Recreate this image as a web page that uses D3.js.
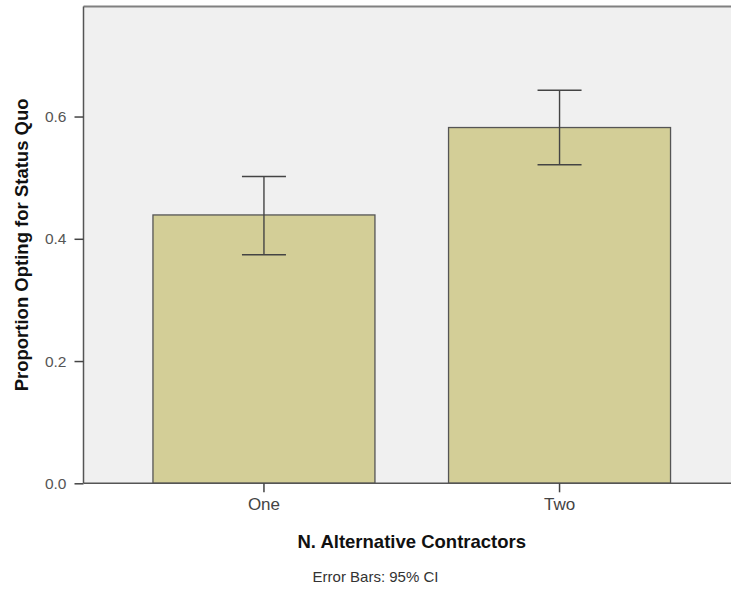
<!DOCTYPE html>
<html>
<head>
<meta charset="UTF-8">
<script src="https://d3js.org/d3.v7.min.js"></script>
<style>
  body { margin: 0; background: #fff; }
  svg text { font-family: "Liberation Sans", Arial, sans-serif; }
</style>
</head>
<body>
<svg id="chart" width="731" height="589"></svg>
<script>
// data
const categories = ["One", "Two"];
const proportions = [0.439, 0.582];
const ciLow = [0.374, 0.521];
const ciHigh = [0.502, 0.643];
const yTicks = [0.0, 0.2, 0.4, 0.6];

const svg = d3.select("#chart");
const plotLeft = 83.5, plotTop = 6.5, plotRight = 740, plotBottom = 483.3;

const x = d3.scaleBand()
    .domain(categories)
    .range([plotLeft, plotRight])
    .paddingInner(0.249)
    .paddingOuter(0.235);

const y = d3.scaleLinear()
    .domain([0, 0.78])
    .range([plotBottom, plotTop]);

// plot background
svg.append("rect")
    .attr("x", plotLeft).attr("y", plotTop)
    .attr("width", plotRight - plotLeft).attr("height", plotBottom - plotTop)
    .attr("fill", "#f0f0f0");

// bars
svg.selectAll(".bar")
    .data(categories)
    .enter().append("rect")
    .attr("class", "bar")
    .attr("x", d => x(d))
    .attr("y", (d, i) => y(proportions[i]))
    .attr("width", x.bandwidth())
    .attr("height", (d, i) => plotBottom - y(proportions[i]))
    .attr("fill", "#d3ce97")
    .attr("stroke", "#555")
    .attr("stroke-width", 1.3);

// error bars
const capW = 44;
const eb = svg.selectAll(".eb")
    .data(categories)
    .enter().append("g")
    .attr("stroke", "#444")
    .attr("stroke-width", 1.4);
eb.append("line")
    .attr("x1", d => x(d) + x.bandwidth() / 2)
    .attr("x2", d => x(d) + x.bandwidth() / 2)
    .attr("y1", (d, i) => y(ciLow[i]))
    .attr("y2", (d, i) => y(ciHigh[i]));
eb.append("line")
    .attr("x1", d => x(d) + x.bandwidth() / 2 - capW / 2)
    .attr("x2", d => x(d) + x.bandwidth() / 2 + capW / 2)
    .attr("y1", (d, i) => y(ciHigh[i]))
    .attr("y2", (d, i) => y(ciHigh[i]));
eb.append("line")
    .attr("x1", d => x(d) + x.bandwidth() / 2 - capW / 2)
    .attr("x2", d => x(d) + x.bandwidth() / 2 + capW / 2)
    .attr("y1", (d, i) => y(ciLow[i]))
    .attr("y2", (d, i) => y(ciLow[i]));

// frame: top edge
svg.append("line")
    .attr("x1", plotLeft).attr("x2", plotRight)
    .attr("y1", plotTop).attr("y2", plotTop)
    .attr("stroke", "#808080").attr("stroke-width", 2);

// y axis
const yAxis = svg.append("g")
    .attr("transform", `translate(${plotLeft},0)`)
    .call(d3.axisLeft(y).tickValues(yTicks).tickFormat(d3.format(".1f"))
        .tickSize(9).tickPadding(8));
yAxis.select(".domain").attr("stroke", "#555").attr("stroke-width", 1.5)
    .attr("d", `M0,${plotTop}V${plotBottom}`);
yAxis.selectAll(".tick line").attr("stroke", "#444").attr("stroke-width", 1.5);
yAxis.selectAll(".tick text")
    .attr("fill", "#555")
    .style("font-size", "15.5px")
    .style("font-family", "'Liberation Sans', Arial, sans-serif");

// x axis
const xAxis = svg.append("g")
    .attr("transform", `translate(0,${plotBottom})`)
    .call(d3.axisBottom(x).tickSize(9).tickPadding(6));
xAxis.select(".domain").attr("stroke", "#555").attr("stroke-width", 1.5)
    .attr("d", `M${plotLeft},0H${plotRight}`);
xAxis.selectAll(".tick line").attr("stroke", "#444").attr("stroke-width", 1.5);
xAxis.selectAll(".tick text")
    .attr("fill", "#444")
    .style("font-size", "17px")
    .style("font-family", "'Liberation Sans', Arial, sans-serif");

// titles
svg.append("text")
    .attr("transform", `translate(28,${(plotTop + plotBottom) / 2}) rotate(-90)`)
    .attr("text-anchor", "middle")
    .attr("font-weight", "bold")
    .attr("font-size", 18.5)
    .attr("fill", "#111")
    .text("Proportion Opting for Status Quo");

svg.append("text")
    .attr("x", (plotLeft + plotRight) / 2)
    .attr("y", 548)
    .attr("text-anchor", "middle")
    .attr("font-weight", "bold")
    .attr("font-size", 18.5)
    .attr("fill", "#111")
    .text("N. Alternative Contractors");

svg.append("text")
    .attr("x", 375.5)
    .attr("y", 582)
    .attr("text-anchor", "middle")
    .attr("font-size", 15)
    .attr("fill", "#333")
    .text("Error Bars: 95% CI");
</script>
</body>
</html>
